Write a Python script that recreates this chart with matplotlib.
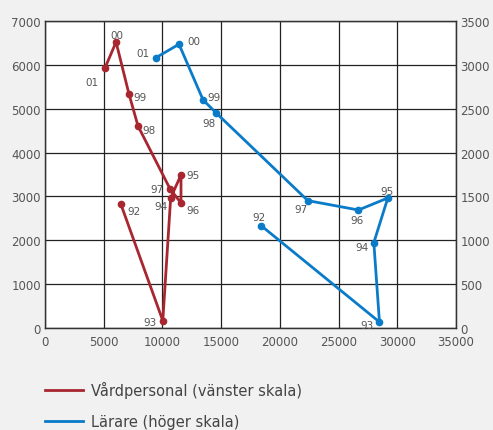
import matplotlib.pyplot as plt
from matplotlib.lines import Line2D

years = ["92", "93", "94", "95", "96", "97", "98", "99", "00", "01"]

vard_x = [6450, 10030, 10700, 11580, 11580, 10650, 7920, 7150, 6050, 5110]
vard_y = [2830, 166, 2965, 3490, 2850, 3170, 4605, 5335, 6520, 5930]

lar_x = [18400, 28480, 28000, 29190, 26690, 22380, 14570, 13460, 11410, 9450]
lar_y = [1167, 68, 973, 1482, 1345, 1452, 2452, 2600, 3235, 3082]

red = "#a8262f"
blue = "#0a7bc8"
txt = "#555555"

# label offsets in points
vard_off = [(5, -5), (-14, -1), (-12, -6), (4, 0), (4, -5), (-14, 0), (3, -3), (3, -2), (-4, 5), (-14, -10)]
lar_off = [(-6, 6), (-14, -2), (-13, -3), (-5, 5), (-6, -7), (-10, -6), (-10, -7), (3, 2), (6, 2), (-14, 3)]

fig = plt.figure(figsize=(4.93, 4.31), dpi=100, facecolor="#f0f1f0")
ax = fig.add_axes([0.0913, 0.2367, 0.8337, 0.7123])
ax2 = ax.twinx()

ax.set_xlim(0, 35000)
ax.set_ylim(0, 7000)
ax2.set_ylim(0, 3500)
ax.set_xticks(range(0, 35001, 5000))
ax.set_yticks(range(0, 7001, 1000))
ax2.set_yticks(range(0, 3501, 500))
ax.grid(True, color="#222222", linewidth=0.9)
ax.set_axisbelow(True)

for a in (ax, ax2):
    a.tick_params(length=0, labelsize=8.5, labelcolor=txt, pad=3)
    for s in a.spines.values():
        s.set_color("#333333")
        s.set_linewidth(0.9)
ax.tick_params(axis="x", pad=5)

ax.plot(vard_x, vard_y, color=red, lw=2, marker="o", ms=4.5)
ax2.plot(lar_x, lar_y, color=blue, lw=2, marker="o", ms=4.5)

for i, yr in enumerate(years):
    ax.annotate(yr, (vard_x[i], vard_y[i]), xytext=vard_off[i], textcoords="offset points",
                fontsize=7.5, color=txt, va="center")
    ax2.annotate(yr, (lar_x[i], lar_y[i]), xytext=lar_off[i], textcoords="offset points",
                 fontsize=7.5, color=txt, va="center")

handles = [Line2D([], [], color=red, lw=2), Line2D([], [], color=blue, lw=2)]
labels = ["Vårdpersonal (vänster skala)", "Lärare (höger skala)"]
fig.legend(handles, labels, loc="upper left",
           bbox_to_anchor=(0.065, 0.145), frameon=False, fontsize=10.5,
           labelcolor="#444444", handlelength=2.6, handletextpad=0.55, labelspacing=1.1)

fig.savefig("out.png", dpi=100, facecolor=fig.get_facecolor())
